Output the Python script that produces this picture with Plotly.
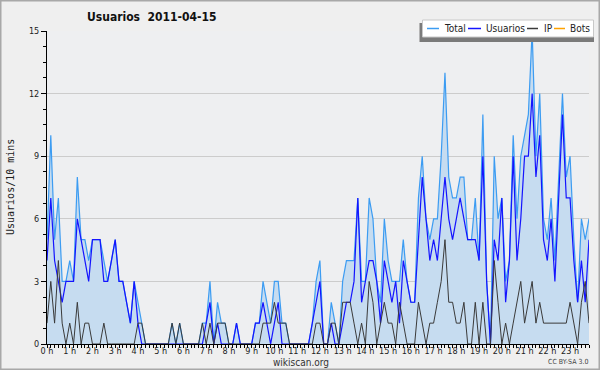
import plotly.graph_objects as go

# 10-minute slots, 0:00 .. 23:50
slots = list(range(144))
total = [5,10,5,7,3,3,4,3,8,5,5,4,5,5,5,4,3,4,5,3,3,2,1,3,2,1,0,0,0,0,
         0,0,0,1,0,1,0,0,0,0,0,1,1,3,0,2,1,1,0,0,1,0,0,0,0,1,1,3,2,1,
         3,3,1,1,0,0,0,0,0,0,1,3,4,0,0,2,1,0,3,4,4,4,7,3,3,7,6,3,2,6,
         4,3,3,3,5,3,2,2,7,9,6,5,6,6,9,13,8,7,7,8,8,5,5,7,4,11,3,0,9,6,
         7,3,4,10,6,9,10,11,15,9,12,6,5,7,4,8,12,8,9,5,2,6,5,6]
usuarios = [4,7,4,3,2,3,3,3,6,5,4,3,5,5,5,3,3,4,5,3,3,2,1,3,1,0,0,0,0,0,
            0,0,0,0,0,0,0,0,0,0,0,0,1,2,0,1,0,0,0,0,1,0,0,0,0,1,1,2,1,0,
            1,2,0,0,0,0,0,0,0,0,1,2,3,0,0,1,0,0,1,2,2,3,7,2,3,4,4,3,1,4,
            3,2,3,1,4,3,2,2,5,8,6,4,5,4,6,8,6,5,6,7,6,5,5,5,4,9,3,0,5,4,
            7,2,4,9,4,6,9,9,12,8,10,5,4,6,3,7,11,7,7,4,2,4,2,5]
ip = [1,3,1,4,1,0,1,0,2,0,1,1,0,0,0,1,0,0,0,0,0,0,0,0,1,1,0,0,0,0,
      0,0,0,1,0,1,0,0,0,0,0,1,0,1,0,1,1,1,0,0,0,0,0,0,0,0,0,1,1,1,
      2,1,1,1,0,0,0,0,0,0,0,1,1,0,0,1,1,0,2,2,2,1,0,1,0,3,2,0,1,2,
      1,1,0,2,1,0,0,0,2,1,0,1,1,2,3,5,2,2,1,1,2,0,0,2,0,2,0,0,4,2,
      0,1,0,1,2,3,1,2,3,1,2,1,1,1,1,1,1,1,2,1,0,2,3,1]
bots = [0] * 144
hour_ticks = list(range(24))
hour_labels = [f"{h} h" for h in hour_ticks]
y_ticks = [0, 3, 6, 9, 12, 15]

x_hours = [s / 6 for s in slots]

W, H = 600, 370
L, R, T, B = 47, 11, 31, 26
PW, PH = W - L - R, H - T - B


def px(x):
    return (x - L) / PW


def py(y):
    return (H - B - y) / PH


fig = go.Figure()
fig.add_trace(go.Scatter(x=x_hours, y=bots, mode="lines", name="Bots",
                         line=dict(color="#ffa200", width=1)))
fig.add_trace(go.Scatter(x=x_hours, y=total, mode="lines", name="Total",
                         fill="tozeroy", fillcolor="#c6dcf0",
                         line=dict(color="#3c9cf2", width=1.2)))
fig.add_trace(go.Scatter(x=x_hours, y=usuarios, mode="lines", name="Usuarios",
                         line=dict(color="#1414ff", width=1.2)))
fig.add_trace(go.Scatter(x=x_hours, y=ip, mode="lines", name="IP",
                         line=dict(color="#3a3a3a", width=1)))

FONT = "DejaVu Sans Condensed, DejaVu Sans"
tickfont = dict(family=FONT, size=9, color="#222")

shapes = [
    # outer frame
    dict(type="rect", xref="paper", yref="paper", x0=px(0.5), x1=px(599.5),
         y0=py(369.5), y1=py(0.5), line=dict(color="#a8a8a8", width=2),
         layer="below"),
    # legend shadow and box
    dict(type="rect", xref="paper", yref="paper", x0=px(419.5), x1=px(594),
         y0=py(42), y1=py(23), fillcolor="#7a7a7a", line=dict(width=0)),
    dict(type="rect", xref="paper", yref="paper", x0=px(422.5), x1=px(593.5),
         y0=py(37), y1=py(20), fillcolor="#ffffff",
         line=dict(color="#c8c8c8", width=1)),
]
annotations = [
    dict(text="Usuarios&nbsp;&nbsp;2011-04-15", xref="paper", yref="paper",
         x=px(85), y=py(17), xanchor="left", yanchor="middle", showarrow=False,
         font=dict(family=FONT, size=12, color="#111", weight="bold")),
    dict(text="Usuarios/10 mins", xref="paper", yref="paper", x=px(10),
         y=py(187), textangle=-90, showarrow=False, xanchor="center",
         yanchor="middle",
         font=dict(family="DejaVu Sans Mono", size=10, color="#222")),
    dict(text="wikiscan.org", xref="paper", yref="paper", x=px(301),
         y=py(362.5), showarrow=False, xanchor="center", yanchor="middle",
         font=dict(family=FONT, size=10, color="#333")),
    dict(text="CC BY-SA 3.0", xref="paper", yref="paper", x=px(590),
         y=py(362), showarrow=False, xanchor="right", yanchor="middle",
         font=dict(family=FONT, size=7, color="#444")),
]

legend_items = [("Total", "#3c9cf2", 427, 439, 442),
                ("Usuarios", "#1414ff", 468, 481, 484),
                ("IP", "#3a3a3a", 527, 538, 542),
                ("Bots", "#ffa200", 554, 565, 568)]
for name, col, lx0, lx1, tx in legend_items:
    shapes.append(dict(type="line", xref="paper", yref="paper", x0=px(lx0),
                       x1=px(lx1), y0=py(28.5), y1=py(28.5),
                       line=dict(color=col, width=1.5)))
    annotations.append(dict(text=name, xref="paper", yref="paper", x=px(tx),
                            y=py(28.5), xanchor="left", yanchor="middle",
                            showarrow=False,
                            font=dict(family=FONT, size=10, color="#222")))

fig.update_layout(
    width=W, height=H, margin=dict(l=L, r=R, t=T, b=B, pad=0),
    paper_bgcolor="#efefef", plot_bgcolor="#eeeff1",
    showlegend=False, shapes=shapes, annotations=annotations,
    xaxis=dict(range=[0, 143 / 6], tickvals=hour_ticks, ticktext=hour_labels,
               ticks="outside", ticklen=3, tickcolor="#000", showgrid=False,
               zeroline=False, showline=True, linecolor="#000", linewidth=1,
               tickfont=tickfont, fixedrange=True, ticklabelstandoff=-5,
               minor=dict(dtick=1 / 6, ticks="outside", ticklen=3,
                          tickcolor="#000", showgrid=False)),
    yaxis=dict(range=[0, 15], tickvals=y_ticks, ticks="outside", ticklen=5,
               tickcolor="#000", showgrid=True, gridcolor="#cccccc",
               zeroline=False, showline=True, linecolor="#000", linewidth=1,
               tickfont=tickfont, fixedrange=True,
               minor=dict(dtick=0.75, ticks="outside", ticklen=3,
                          tickcolor="#000", showgrid=False)),
)

fig.write_html("out.html", config={"displayModeBar": False},
               post_script="document.body.style.margin='0';")
